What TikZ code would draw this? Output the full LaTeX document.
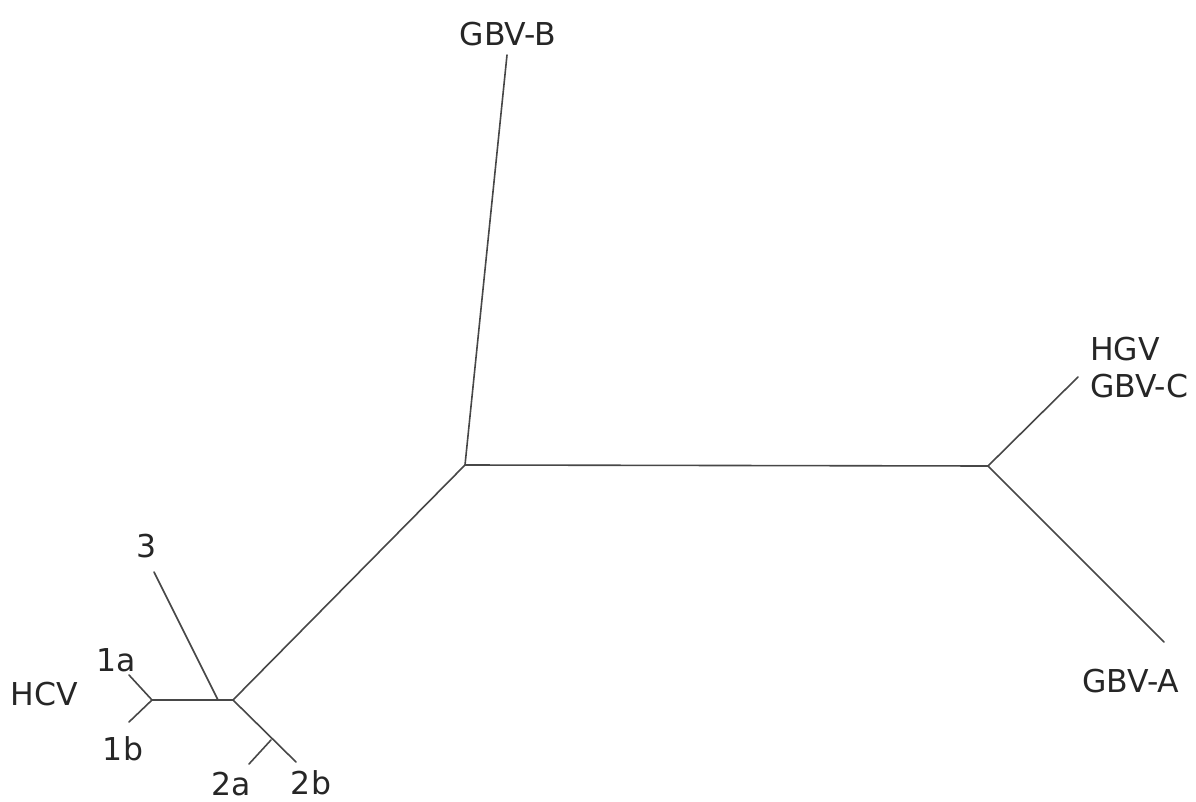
\documentclass[tikz,border=0pt]{standalone}
\usepackage{fontspec}
\setmainfont{DejaVu Sans}
\begin{document}
\begin{tikzpicture}[x=1pt,y=-1pt,
  branch/.style={draw=black!72,line width=1.6pt,line cap=round},
  lab/.style={font=\fontsize{31.5}{36}\selectfont,text=black!85,inner sep=0pt}]
\useasboundingbox (0,0) rectangle (1196,802);
% internal nodes
\coordinate (A) at (465,465);
\coordinate (R) at (988,466);
\coordinate (L) at (233,700);
\coordinate (J3) at (218,700);
\coordinate (H) at (152,700);
\coordinate (J2) at (271,740);
% tips
\coordinate (tB) at (507,55);
\coordinate (tC) at (1078,377);
\coordinate (tA) at (1164,642);
\coordinate (t3) at (154,572);
\coordinate (t1a) at (129,675);
\coordinate (t1b) at (129,722);
\coordinate (t2a) at (249,764);
\coordinate (t2b) at (296,762);
% labels
\node[lab] (lB) at (508,34) {GBV-B};
\node[lab,anchor=west] (lHGV) at (1090,349) {HGV};
\node[lab,anchor=west] (lC) at (1090,386) {GBV-C};
\node[lab] (lA) at (1131,681) {GBV-A};
\node[lab] (l3) at (147,546) {3};
\node[lab] (l1a) at (116,660) {1a};
\node[lab] (l1b) at (123,749) {1b};
\node[lab] (lHCV) at (44,694) {HCV};
\node[lab] (l2a) at (231,784) {2a};
\node[lab] (l2b) at (311,783) {2b};
% branches
\draw[branch] (A) -- (tB);
\draw[branch] (A) -- (R);
\draw[branch] (R) -- (tC);
\draw[branch] (R) -- (tA);
\draw[branch] (A) -- (L);
\draw[branch] (L) -- (H);
\draw[branch] (J3) -- (t3);
\draw[branch] (H) -- (t1a);
\draw[branch] (H) -- (t1b);
\draw[branch] (L) -- (t2b);
\draw[branch] (J2) -- (t2a);
\end{tikzpicture}
\end{document}
